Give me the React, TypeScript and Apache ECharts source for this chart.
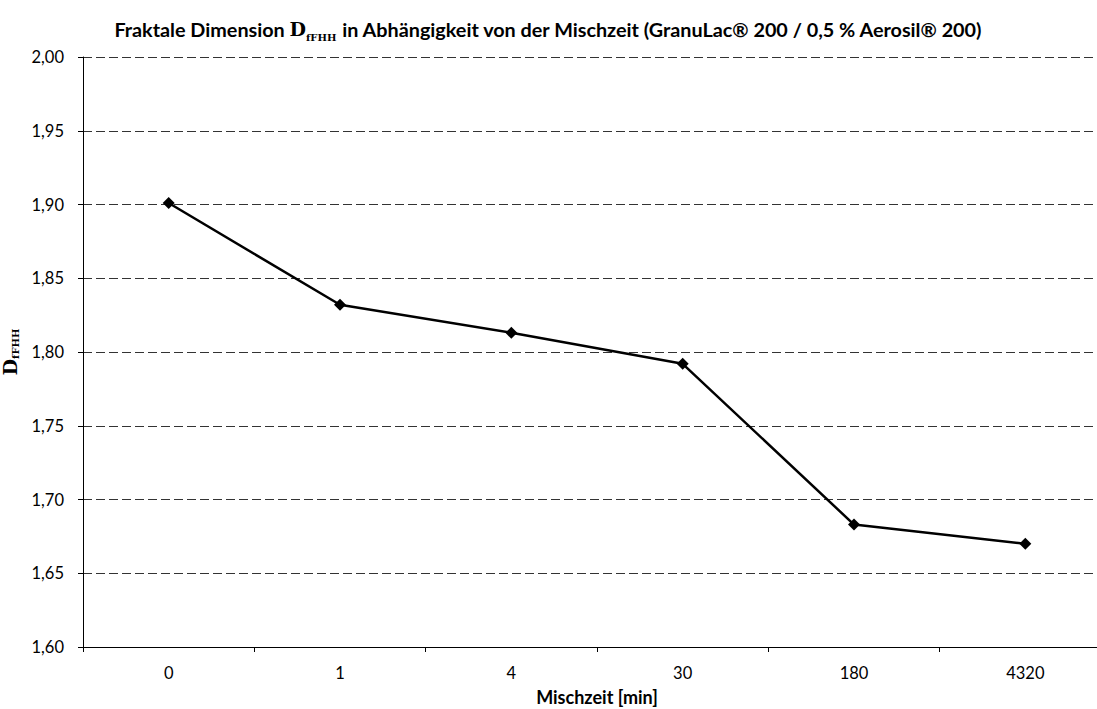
import React, { useEffect, useRef } from "react";
import * as echarts from "echarts";

const categories = ["0", "1", "4", "30", "180", "4320"];
const dValues = [1.901, 1.832, 1.813, 1.792, 1.683, 1.670];
const yMin = 1.6;
const yMax = 2.0;
const yInterval = 0.05;

const FONT = "Lato, 'Open Sans', sans-serif";
const SERIF = "'DejaVu Serif', 'Liberation Serif', serif";

export default function App() {
  const ref = useRef<HTMLDivElement>(null);
  useEffect(() => {
    if (!ref.current) return;
    const chart = echarts.init(ref.current, undefined, { renderer: "svg" });
    chart.setOption({
      animation: false,
      backgroundColor: "#ffffff",
      title: {
        text: "{t|Fraktale Dimension }{d|D}{s|fFHH}{t| in Abhängigkeit von der Mischzeit (GranuLac® 200 / 0,5 % Aerosil® 200)}",
        left: "center",
        top: 11,
        textStyle: {
          rich: {
            t: { fontFamily: FONT, fontWeight: "bold", fontSize: 19.8, color: "#000", lineHeight: 26, verticalAlign: "middle" },
            d: { fontFamily: SERIF, fontSize: 19, color: "#000", lineHeight: 26, verticalAlign: "middle" },
            s: { fontFamily: SERIF, fontWeight: "bold", fontSize: 10, color: "#000", lineHeight: 13, verticalAlign: "bottom", padding: [11, 0, 0, 0] },
          },
        },
      },
      grid: { left: 83, right: -14, top: 57, bottom: 62, outerBoundsMode: "none", containLabel: false },
      xAxis: {
        type: "category",
        data: categories,
        boundaryGap: true,
        name: "Mischzeit [min]",
        nameLocation: "middle",
        nameGap: 41,
        nameTextStyle: { fontFamily: FONT, fontWeight: "bold", fontSize: 18, color: "#000", lineHeight: 18 },
        axisLine: { lineStyle: { color: "#000", width: 1 } },
        axisTick: { show: true, alignWithLabel: false, length: 5, lineStyle: { color: "#000" } },
        axisLabel: { fontFamily: FONT, fontSize: 16.5, color: "#000", margin: 17 },
        splitLine: { show: false },
      },
      yAxis: {
        type: "value",
        min: yMin,
        max: yMax,
        interval: yInterval,
        name: "{d|D}{s|fFHH}",
        nameLocation: "middle",
        nameGap: 59,
        nameRotate: 90,
        nameTextStyle: {
          rich: {
            d: { fontFamily: SERIF, fontSize: 19, fontWeight: "bold", color: "#000", lineHeight: 22, verticalAlign: "middle" },
            s: { fontFamily: SERIF, fontWeight: "bold", fontSize: 10, color: "#000", lineHeight: 13, verticalAlign: "bottom", padding: [9, 0, 0, 0] },
          },
        },
        axisLine: { show: true, lineStyle: { color: "#000", width: 1 } },
        axisTick: { show: true, length: 5, lineStyle: { color: "#000" } },
        axisLabel: {
          fontFamily: FONT,
          fontSize: 16.5,
          color: "#000",
          margin: 19,
          formatter: (v: number) => v.toFixed(2).replace(".", ","),
        },
        splitLine: { show: true, lineStyle: { color: "#333", type: [9, 4], width: 1 } },
      },
      series: [
        {
          type: "line",
          data: dValues,
          symbol: "diamond",
          symbolSize: 12,
          lineStyle: { color: "#000", width: 2.5 },
          itemStyle: { color: "#000" },
        },
      ],
    });
    return () => chart.dispose();
  }, []);
  return (
    <div
      ref={ref}
      style={{ position: "fixed", left: 0, top: 0, width: 1097, height: 709, background: "#fff" }}
    />
  );
}
